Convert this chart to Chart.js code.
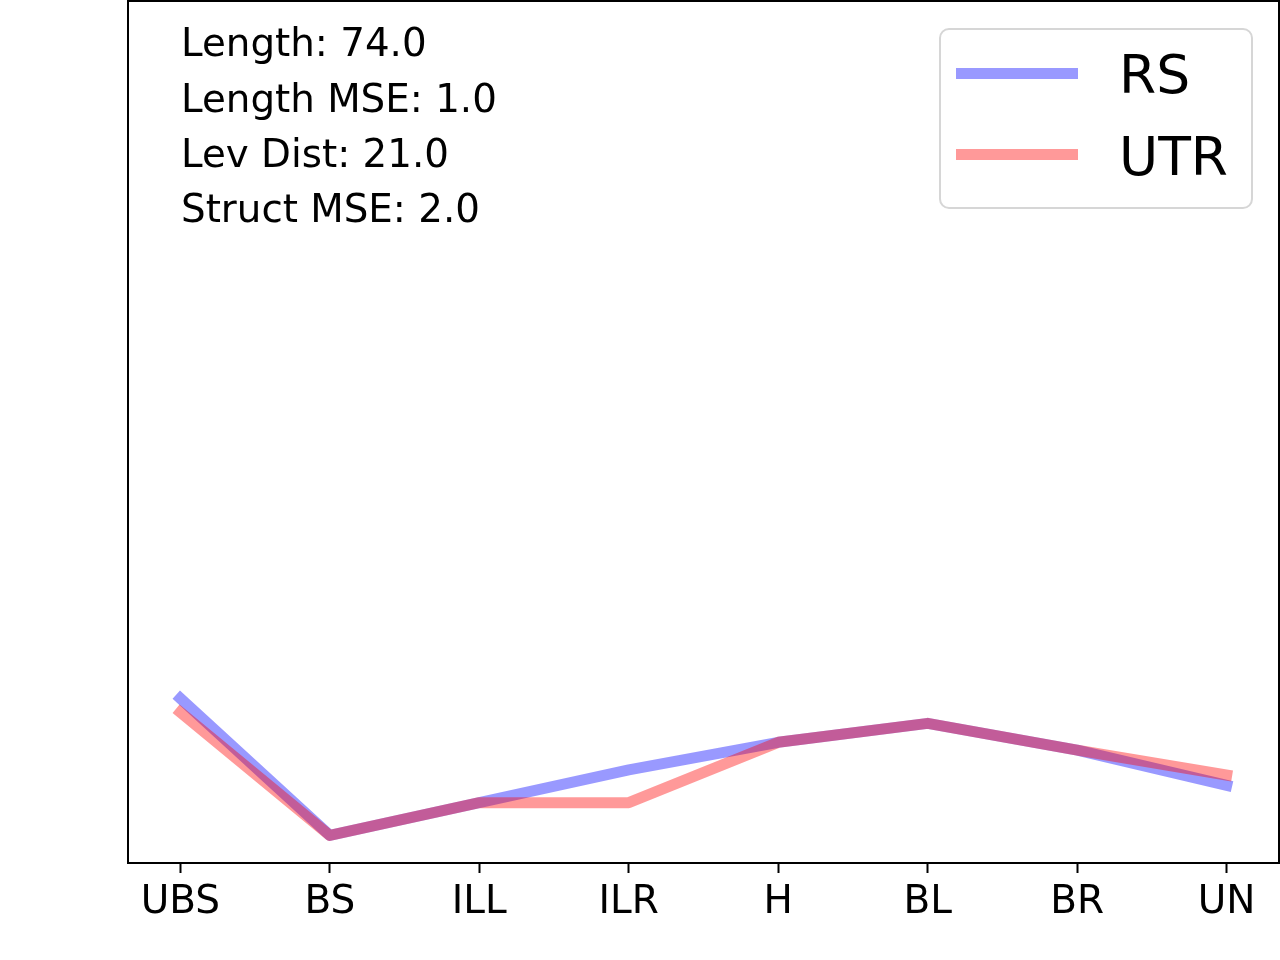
<!DOCTYPE html>
<html>
<head>
<meta charset="utf-8">
<script src="https://cdn.jsdelivr.net/npm/chart.js@4"></script>
<style>
  body { margin: 0; background: #fff; }
  canvas { display: block; }
</style>
</head>
<body>
<canvas id="myChart" width="1280" height="960"></canvas>
<script>
var categories = ['UBS', 'BS', 'ILL', 'ILR', 'H', 'BL', 'BR', 'UN'];
var rsValues = [19.1, 3.2, 7.0, 10.8, 14.0, 16.2, 13.1, 9.0];
var utrValues = [17.5, 3.2, 7.0, 7.0, 14.0, 16.2, 13.1, 10.2];
var statLines = ['Length: 74.0', 'Length MSE: 1.0', 'Lev Dist: 21.0', 'Struct MSE: 2.0'];
var seriesNames = ['RS', 'UTR'];
var seriesColors = ['rgba(0, 0, 255, 0.4)', 'rgba(255, 0, 0, 0.4)'];

function toPoints(values) {
    return values.map(function (v, i) { return { x: i, y: v }; });
}

// frame, stats text and legend, drawn the way matplotlib does it
var extras = {
    id: 'extras',
    afterDraw: function (chart) {
        var ctx = chart.ctx;
        var a = chart.chartArea;
        ctx.save();
        ctx.strokeStyle = '#000';
        ctx.lineWidth = 2;
        ctx.strokeRect(a.left, a.top, a.right - a.left, a.bottom - a.top);

        ctx.fillStyle = '#000';
        ctx.font = '38.8px "DejaVu Sans"';
        ctx.textBaseline = 'alphabetic';
        ctx.textAlign = 'left';
        var baselines = [56, 111.5, 167, 222];
        statLines.forEach(function (t, i) {
            ctx.fillText(t, 181, baselines[i]);
        });

        // legend box
        var bx = 940, by = 29, bw = 312, bh = 179, r = 9;
        ctx.beginPath();
        ctx.moveTo(bx + r, by);
        ctx.arcTo(bx + bw, by, bx + bw, by + bh, r);
        ctx.arcTo(bx + bw, by + bh, bx, by + bh, r);
        ctx.arcTo(bx, by + bh, bx, by, r);
        ctx.arcTo(bx, by, bx + bw, by, r);
        ctx.closePath();
        ctx.fillStyle = 'rgba(255,255,255,0.8)';
        ctx.fill();
        ctx.strokeStyle = '#d6d6d6';
        ctx.lineWidth = 2;
        ctx.stroke();

        var rows = [73.5, 154.5];
        var textBase = [92.7, 175];
        ctx.font = '53.5px "DejaVu Sans"';
        seriesNames.forEach(function (name, i) {
            ctx.beginPath();
            ctx.moveTo(956, rows[i]);
            ctx.lineTo(1078, rows[i]);
            ctx.strokeStyle = seriesColors[i];
            ctx.lineWidth = 11;
            ctx.lineCap = 'butt';
            ctx.stroke();
            ctx.fillStyle = '#000';
            ctx.fillText(name, 1119, textBase[i]);
        });
        ctx.restore();
    }
};

var ctx = document.getElementById('myChart').getContext('2d');
var myChart = new Chart(ctx, {
    type: 'line',
    data: {
        datasets: [{
            label: seriesNames[0],
            data: toPoints(rsValues),
            borderColor: seriesColors[0],
            borderWidth: 11,
            borderCapStyle: 'square',
            borderJoinStyle: 'round',
            pointRadius: 0,
            fill: false,
            tension: 0,
            order: 1
        }, {
            label: seriesNames[1],
            data: toPoints(utrValues),
            borderColor: seriesColors[1],
            borderWidth: 11,
            borderCapStyle: 'square',
            borderJoinStyle: 'round',
            pointRadius: 0,
            fill: false,
            tension: 0,
            order: 0
        }]
    },
    options: {
        responsive: false,
        animation: false,
        devicePixelRatio: 1,
        layout: { padding: { left: 128, right: 1, top: 1, bottom: 0 } },
        plugins: {
            legend: { display: false },
            tooltip: { enabled: false }
        },
        scales: {
            x: {
                type: 'linear',
                min: -0.35,
                max: 7.35,
                afterBuildTicks: function (scale) {
                    scale.ticks = categories.map(function (c, i) { return { value: i }; });
                },
                afterFit: function (scale) { scale.height = 97; },
                border: { display: false },
                grid: {
                    drawOnChartArea: false,
                    tickLength: 10,
                    tickWidth: 2,
                    tickColor: '#000'
                },
                ticks: {
                    padding: 6,
                    color: '#000',
                    maxRotation: 0,
                    autoSkip: false,
                    font: { family: 'DejaVu Sans', size: 39 },
                    callback: function (value) { return categories[value]; }
                }
            },
            y: {
                display: false,
                min: 0,
                max: 100
            }
        }
    },
    plugins: [extras]
});
</script>
</body>
</html>
